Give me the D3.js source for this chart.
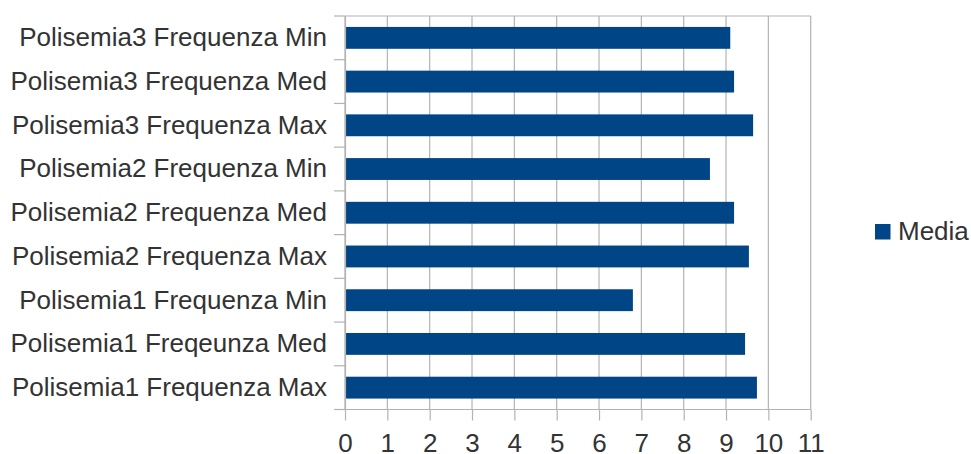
<!DOCTYPE html>
<html>
<head>
<meta charset="utf-8">
<script src="https://cdn.jsdelivr.net/npm/d3@7"></script>
<style>
  html, body { margin: 0; padding: 0; background: #fff; }
  svg { display: block; font-family: "Liberation Sans", Arial, sans-serif; }
</style>
</head>
<body>
<svg id="chart" width="971" height="454"></svg>
<script>
// Categories listed top to bottom
const categories = [
  "Polisemia3 Frequenza Min",
  "Polisemia3 Frequenza Med",
  "Polisemia3 Frequenza Max",
  "Polisemia2 Frequenza Min",
  "Polisemia2 Frequenza Med",
  "Polisemia2 Frequenza Max",
  "Polisemia1 Frequenza Min",
  "Polisemia1 Freqeunza Med",
  "Polisemia1 Frequenza Max"
];
const mediaValues = [9.1, 9.19, 9.64, 8.62, 9.19, 9.54, 6.8, 9.45, 9.73];
const xTicks = [0, 1, 2, 3, 4, 5, 6, 7, 8, 9, 10, 11];
const seriesName = "Media";

const svg = d3.select("#chart");
const plotLeft = 345, plotRight = 810.7, plotTop = 16, plotBottom = 409.5;
const barColor = "#004586";
const gridColor = "#b3b3b3";
const textColor = "#333333";
const fontSize = 26;

const x = d3.scaleLinear().domain([0, 11]).range([plotLeft, plotRight]);
const y = d3.scaleBand().domain(categories).range([plotTop, plotBottom]).paddingInner(0.5).paddingOuter(0.25);

// vertical gridlines
svg.append("g").selectAll("line")
  .data(xTicks)
  .join("line")
  .attr("x1", d => x(d)).attr("x2", d => x(d))
  .attr("y1", plotTop).attr("y2", plotBottom)
  .attr("stroke", gridColor).attr("stroke-width", 1.2);

// category separators on the left axis
const step = (plotBottom - plotTop) / categories.length;
const seps = d3.range(categories.length + 1).map(i => plotTop + i * step);
svg.append("g").selectAll("line")
  .data(seps)
  .join("line")
  .attr("x1", plotLeft - 11).attr("x2", plotLeft)
  .attr("y1", d => d).attr("y2", d => d)
  .attr("stroke", gridColor).attr("stroke-width", 1.2);

// top border line of the plot
svg.append("line")
  .attr("x1", plotLeft).attr("x2", plotRight).attr("y1", plotTop).attr("y2", plotTop)
  .attr("stroke", gridColor).attr("stroke-width", 1.2);

// bars
svg.append("g").selectAll("rect")
  .data(categories)
  .join("rect")
  .attr("x", x(0))
  .attr("y", d => y(d))
  .attr("width", (d, i) => x(mediaValues[i]) - x(0))
  .attr("height", y.bandwidth())
  .attr("fill", barColor);

// bottom axis
const xAxis = d3.axisBottom(x).tickValues(xTicks).tickSize(11).tickPadding(13).tickFormat(d3.format("d"));
const gx = svg.append("g").attr("transform", `translate(0,${plotBottom})`).call(xAxis);
gx.select(".domain").attr("stroke", gridColor).attr("stroke-width", 1.2).attr("d", `M${plotLeft - 11},0H${plotRight}`);
gx.selectAll(".tick line").attr("stroke", gridColor).attr("stroke-width", 1.2);
gx.selectAll(".tick text").attr("fill", textColor).attr("font-size", fontSize)
  .attr("font-family", "'Liberation Sans', Arial, sans-serif");

// left axis labels
const yAxis = d3.axisLeft(y).tickSize(0).tickPadding(18);
const gy = svg.append("g").attr("transform", `translate(${plotLeft},0)`).call(yAxis);
gy.select(".domain").attr("stroke", gridColor).attr("stroke-width", 1.2);
gy.selectAll(".tick text").attr("fill", textColor).attr("font-size", fontSize)
  .attr("font-family", "'Liberation Sans', Arial, sans-serif");

// legend
const lg = svg.append("g").attr("transform", "translate(875,224)");
lg.append("rect").attr("width", 15.5).attr("height", 15.5).attr("fill", barColor);
lg.append("text").attr("x", 23).attr("y", 16)
  .attr("font-size", fontSize).attr("fill", textColor).text(seriesName);
</script>
</body>
</html>
